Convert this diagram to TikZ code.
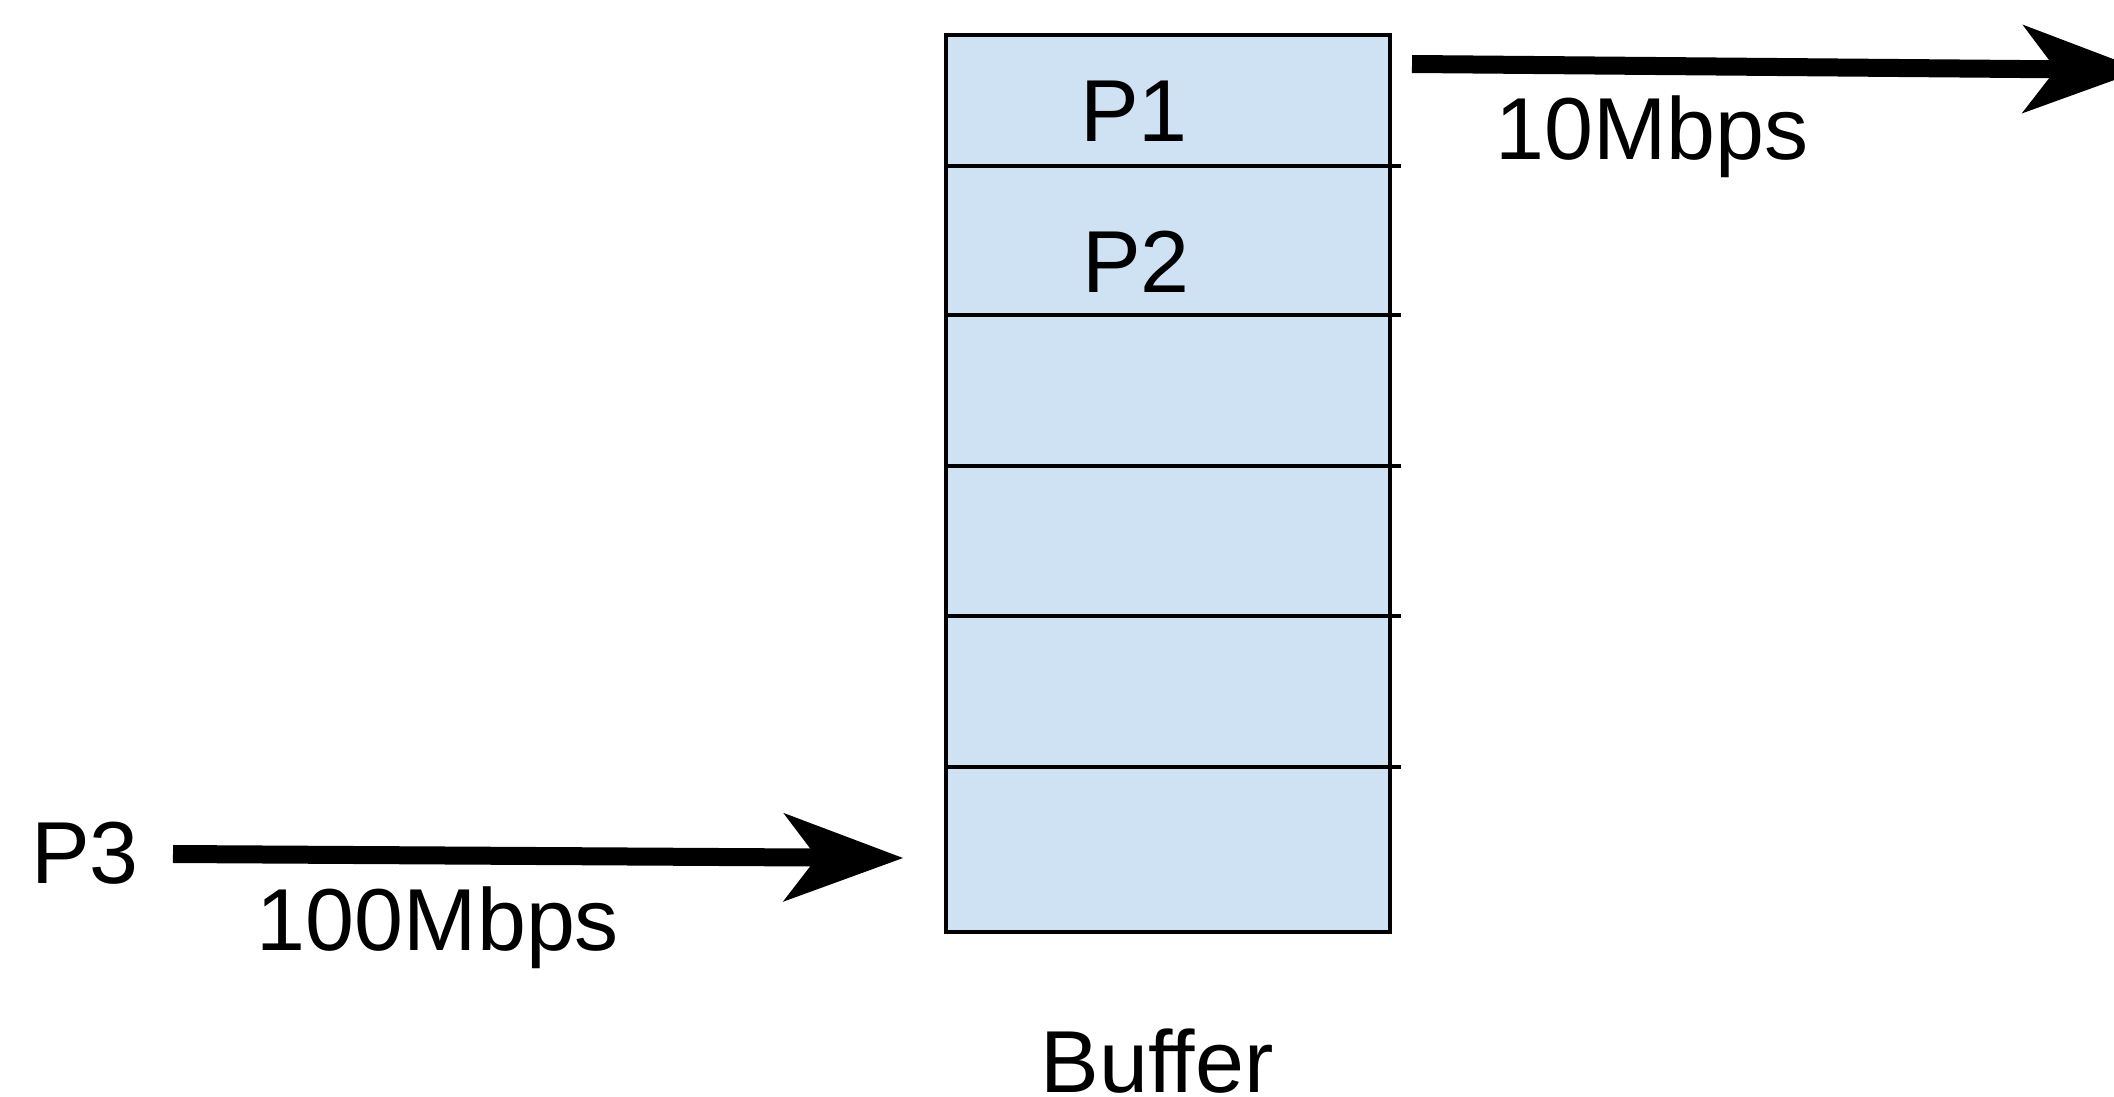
\documentclass[tikz,border=0pt]{standalone}
\usepackage{fontspec}
\setmainfont{Liberation Sans}
\usetikzlibrary{arrows.meta}
\definecolor{bufblue}{HTML}{CFE2F3}
\tikzset{
  lbl/.style={anchor=base, inner sep=0pt, font=\fontsize{88}{100}\selectfont},
  bufbox/.style={draw=black, fill=bufblue, line width=3.5pt, rectangle, inner sep=0pt,
                 minimum width=444pt, minimum height=897pt},
  sep/.style={draw=black, line width=3.2pt},
  bigarrow/.style={draw=black, line width=18pt,
     -{Stealth[length=120pt, width=89pt, inset=34pt, line width=0pt]}}
}
\begin{document}
\begin{tikzpicture}[x=1pt, y=-1pt]
\useasboundingbox (0,0) rectangle (2114,1097);
% buffer
\node[bufbox] (buf) at (1168,483.5) {};
\foreach \yy/\nm in {166/s1, 315/s2, 466/s3, 616/s4, 767/s5}{
  \coordinate (\nm l) at (946,\yy);
  \coordinate (\nm r) at (1401,\yy);
  \draw[sep] (\nm l) -- (\nm r);
}
% labels
\node[lbl] (p1) at (1134,142) {P1};
\node[lbl] (p2) at (1136,292) {P2};
\node[lbl] (p3) at (85,883) {P3};
\node[lbl] (r10) at (1652,159) {10Mbps};
\node[lbl] (r100) at (438,950) {100Mbps};
\node[lbl] (buflbl) at (1157,1092) {Buffer};
% arrows
\coordinate (outA) at (1412,64);
\coordinate (outB) at (2142,70);
\draw[bigarrow] (outA) -- (outB);
\coordinate (inA) at (173,854);
\coordinate (inB) at (903,858);
\draw[bigarrow] (inA) -- (inB);
\end{tikzpicture}
\end{document}
